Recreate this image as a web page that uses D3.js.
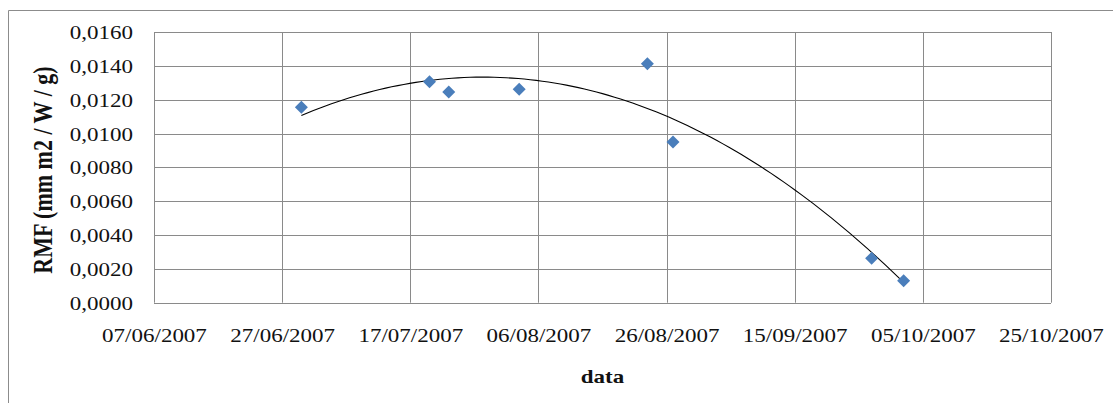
<!DOCTYPE html>
<html>
<head>
<meta charset="utf-8">
<script src="https://cdn.jsdelivr.net/npm/d3@7"></script>
<style>
  html, body { margin: 0; padding: 0; background: #fff; }
  svg text { font-family: "Liberation Serif", "Times New Roman", serif; }
</style>
</head>
<body>
<div id="chart"></div>
<script>
// Data
const sampleDates = ["30/06/2007", "20/07/2007", "23/07/2007", "03/08/2007",
                     "23/08/2007", "27/08/2007", "27/09/2007", "02/10/2007"];
const rmfValues = [0.01155, 0.01306, 0.01245, 0.01261, 0.01413, 0.0095, 0.00262, 0.0013];
const xTickLabels = ["07/06/2007", "27/06/2007", "17/07/2007", "06/08/2007",
                     "26/08/2007", "15/09/2007", "05/10/2007", "25/10/2007"];
const yTickValues = [0, 0.002, 0.004, 0.006, 0.008, 0.010, 0.012, 0.014, 0.016];

const width = 1113, height = 403;
const margin = { top: 32, right: 62, bottom: 100, left: 154 };
const stretch = 1.23; // glyphs in the picture are wider than tall

const parse = d3.utcParse("%d/%m/%Y");
const points = sampleDates.map((d, i) => ({ date: parse(d), value: rmfValues[i] }));
const xTicks = xTickLabels.map(parse);

const locale = d3.formatLocale({ decimal: ",", thousands: ".", grouping: [3], currency: ["", ""] });
const fmtY = locale.format(".4f");
const fmtX = d3.utcFormat("%d/%m/%Y");

const x = d3.scaleUtc()
  .domain([xTicks[0], xTicks[xTicks.length - 1]])
  .range([margin.left, width - margin.right]);
const y = d3.scaleLinear()
  .domain([0, 0.016])
  .range([height - margin.bottom - 0.3, margin.top]);

const svg = d3.select("#chart").append("svg")
  .attr("width", width)
  .attr("height", height);

// outer chart frame (partly cropped in the reference)
svg.append("path")
  .attr("d", `M8.5,${height} V10.5 H${width}`)
  .attr("fill", "none")
  .attr("stroke", "#8c8c8c")
  .attr("stroke-width", 1);

// gridlines
const grid = svg.append("g").attr("stroke", "#8a8a8a").attr("stroke-width", 1);
grid.selectAll("line.h")
  .data(yTickValues)
  .join("line")
  .attr("class", "h")
  .attr("x1", x.range()[0]).attr("x2", x.range()[1])
  .attr("y1", d => Math.round(y(d)) + 0.5).attr("y2", d => Math.round(y(d)) + 0.5);
grid.selectAll("line.v")
  .data(xTicks)
  .join("line")
  .attr("class", "v")
  .attr("y1", y.range()[0]).attr("y2", y.range()[1])
  .attr("x1", d => Math.round(x(d)) + 0.5).attr("x2", d => Math.round(x(d)) + 0.5);

// axes (labels only, Excel style)
const yAxis = svg.append("g")
  .attr("transform", `translate(${margin.left},0)`)
  .call(d3.axisLeft(y).tickValues(yTickValues).tickFormat(fmtY).tickSize(0).tickPadding(0));
yAxis.select(".domain").remove();
yAxis.attr("font-family", null);
yAxis.selectAll("text")
  .attr("x", -21 / stretch)
  .attr("dy", "0.35em")
  .attr("transform", `scale(${stretch},1)`)
  .attr("font-size", 18.7)
  .attr("fill", "#111");

const xAxis = svg.append("g")
  .attr("transform", `translate(0,${y.range()[0]})`)
  .call(d3.axisBottom(x).tickValues(xTicks).tickFormat(fmtX).tickSize(0).tickPadding(0));
xAxis.select(".domain").remove();
xAxis.attr("font-family", null);
xAxis.selectAll("text")
  .attr("y", 39)
  .attr("dy", 0)
  .attr("transform", `scale(${stretch},1)`)
  .attr("font-size", 18.7)
  .attr("fill", "#111");

// axis titles
svg.append("text")
  .attr("transform", `translate(${(x.range()[0] + x.range()[1]) / 2},383) scale(${stretch},1)`)
  .attr("text-anchor", "middle")
  .attr("font-weight", "bold")
  .attr("font-size", 18.7)
  .attr("fill", "#111")
  .text("data");

svg.append("text")
  .attr("transform", `translate(52,170) rotate(-90) scale(1,${stretch})`)
  .attr("text-anchor", "middle")
  .attr("font-weight", "bold")
  .attr("font-size", 22)
  .attr("fill", "#111")
  .text("RMF (mm m2 / W / g)");

// polynomial (order 2) trendline, least squares on day offsets
const day0 = points[0].date;
const dx = points.map(p => (p.date - day0) / 864e5);
const dy = points.map(p => p.value);
function fitQuadratic(xs, ys) {
  const S = k => d3.sum(xs, v => Math.pow(v, k));
  const T = k => d3.sum(xs, (v, i) => Math.pow(v, k) * ys[i]);
  const A = [[S(0), S(1), S(2)], [S(1), S(2), S(3)], [S(2), S(3), S(4)]];
  const b = [T(0), T(1), T(2)];
  for (let i = 0; i < 3; i++) {
    for (let j = i + 1; j < 3; j++) {
      const f = A[j][i] / A[i][i];
      for (let k = i; k < 3; k++) A[j][k] -= f * A[i][k];
      b[j] -= f * b[i];
    }
  }
  const c = [0, 0, 0];
  for (let i = 2; i >= 0; i--) {
    let s = b[i];
    for (let k = i + 1; k < 3; k++) s -= A[i][k] * c[k];
    c[i] = s / A[i][i];
  }
  return c;
}
const coef = fitQuadratic(dx, dy);
const span = d3.max(dx);
const trend = d3.range(0, 101).map(i => {
  const t = span * i / 100;
  return { date: new Date(+day0 + t * 864e5), value: coef[0] + coef[1] * t + coef[2] * t * t };
});

svg.append("path")
  .datum(trend)
  .attr("fill", "none")
  .attr("stroke", "#000")
  .attr("stroke-width", 1.1)
  .attr("d", d3.line().x(d => x(d.date)).y(d => y(d.value)));

// diamond markers
const r = 6.5;
svg.append("g")
  .selectAll("path")
  .data(points)
  .join("path")
  .attr("fill", "#4a7ebb")
  .attr("d", d => {
    const cx = x(d.date), cy = y(d.value);
    return `M${cx},${cy - r}L${cx + r},${cy}L${cx},${cy + r}L${cx - r},${cy}Z`;
  });
</script>
</body>
</html>
